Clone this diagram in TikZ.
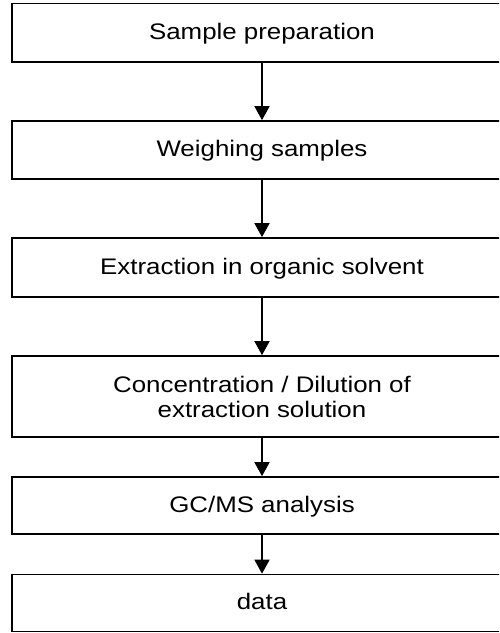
\documentclass[tikz,border=0pt]{standalone}
\usepackage{fontspec}
\setmainfont{Liberation Sans}[FakeStretch=1.15]
\usetikzlibrary{arrows.meta}
\begin{document}
\begin{tikzpicture}[x=1pt,y=-1pt,
  stepbox/.style={draw=black,line width=1.7pt,fill=white,minimum width=500pt,
    inner sep=0pt,font=\fontsize{22.5}{25}\selectfont,text height=16pt,text depth=3pt},
  flow/.style={line width=1.6pt,-{Triangle[width=15pt,length=14pt]}}]
\clip (0,0) rectangle (499,633);
\fill[white] (0,0) rectangle (499,633);
\node[stepbox,minimum height=58.5pt] (s1) at (262,32.75) {Sample preparation};
\node[stepbox,minimum height=58pt] (s2) at (262,150) {Weighing samples};
\node[stepbox,minimum height=59pt] (s3) at (262,267.5) {Extraction in organic solvent};
\node[stepbox,minimum height=81pt,align=center,text height=,text depth=] (s4) at (262,396.5) {Concentration / Dilution of\\extraction solution};
\node[stepbox,minimum height=57pt] (s5) at (262,505.5) {GC/MS analysis};
\node[stepbox,minimum height=57pt] (s6) at (262,603) {data};
\draw[flow] (s1) -- (s2);
\draw[flow] (s2) -- (s3);
\draw[flow] (s3) -- (s4);
\draw[flow] (s4) -- (s5);
\draw[flow] (s5) -- (s6);
\end{tikzpicture}
\end{document}
